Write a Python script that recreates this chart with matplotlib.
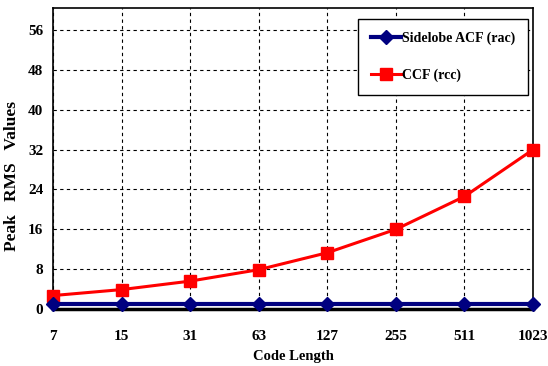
import matplotlib.pyplot as plt

code_lengths = ["7", "15", "31", "63", "127", "255", "511", "1023"]
acf_sidelobe = [1.0, 1.0, 1.0, 1.0, 1.0, 1.0, 1.0, 1.0]
ccf_values = [2.7, 3.9, 5.6, 7.9, 11.3, 16.0, 22.6, 32.0]
y_ticks = [0, 8, 16, 24, 32, 40, 48, 56]

plt.rcParams["font.family"] = ["Liberation Serif", "DejaVu Serif"]
plt.rcParams["font.weight"] = "bold"

fig = plt.figure(figsize=(5.48, 3.66), dpi=100)
ax = fig.add_axes([0.0967, 0.1557, 0.876, 0.822])

x = list(range(len(code_lengths)))
ax.plot(x, acf_sidelobe, color="#000080", lw=3, marker="D", ms=7,
        label="Sidelobe ACF (rac)", zorder=4, clip_on=False)
ax.plot(x, ccf_values, color="#ff0000", lw=2.2, marker="s", ms=8.5,
        label="CCF (rcc)", zorder=3, clip_on=False)

ax.set_xlim(0, len(code_lengths) - 1)
ax.set_ylim(0, 60.4)
ax.set_xticks(x)
ax.set_xticklabels(code_lengths)
ax.set_yticks(y_ticks)
ax.tick_params(axis="x", length=0, pad=15, labelsize=11)
ax.tick_params(axis="y", length=0, pad=7, labelsize=11)
for lbl in ax.get_xticklabels() + ax.get_yticklabels():
    lbl.set_fontweight("bold")

ax.grid(True, color="black", ls=(0, (3, 3)), lw=0.8)
for s in ax.spines.values():
    s.set_linewidth(1.2)
ax.spines["bottom"].set_linewidth(2.5)

ax.set_xlabel("Code Length", fontsize=10.5, fontweight="bold", labelpad=5)
ax.set_ylabel("Peak   RMS   Values", fontsize=12.5, fontweight="bold")
ax.yaxis.set_label_coords(-0.068, 0.442)

leg = ax.legend(loc="upper right", bbox_to_anchor=(0.99, 0.963),
                handlelength=2.2, borderpad=0.9, labelspacing=1.7,
                handletextpad=0.1, borderaxespad=0, fancybox=False,
                framealpha=1, edgecolor="black",
                prop={"weight": "bold", "size": 10})
leg.get_frame().set_linewidth(1.0)

fig.savefig("out.png", dpi=100)
